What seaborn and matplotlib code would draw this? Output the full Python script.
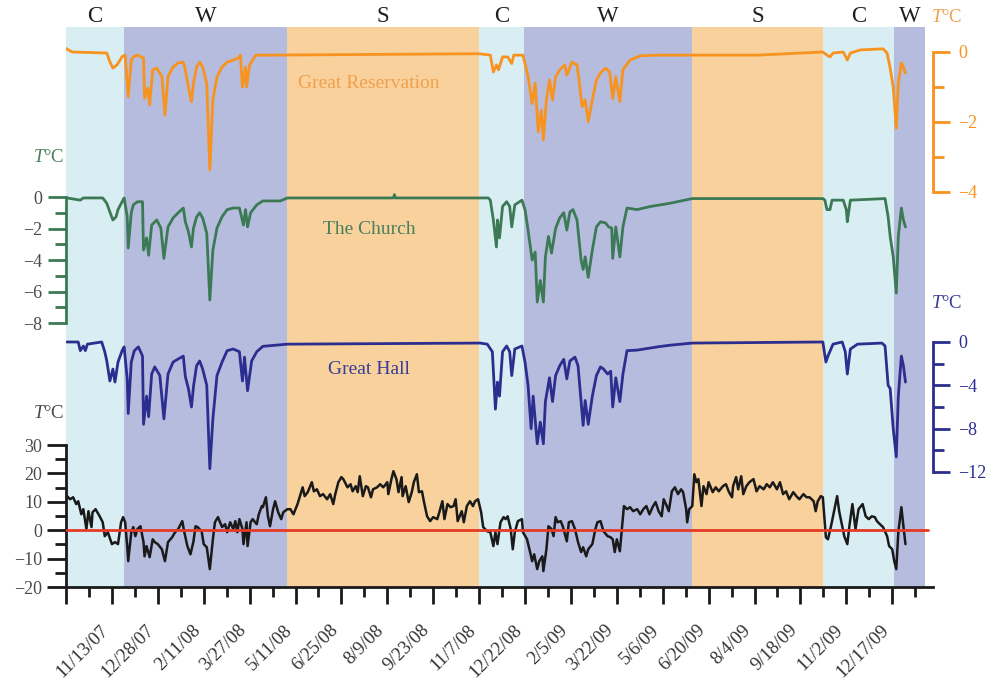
import matplotlib
matplotlib.use("Agg")
import matplotlib.pyplot as plt
import pandas as pd
import seaborn as sns

# ---------------- data ----------------
START = pd.Timestamp("2007-09-29")   # first (unlabelled) major tick
X_END_DAY = 850

tick_labels = ["11/13/07", "12/28/07", "2/11/08", "3/27/08", "5/11/08", "6/25/08",
               "8/9/08", "9/23/08", "11/7/08", "12/22/08", "2/5/09", "3/22/09",
               "5/6/09", "6/20/09", "8/4/09", "9/18/09", "11/2/09", "12/17/09"]

season_names = ["C", "W", "S", "C", "W", "S", "C", "W"]
season_bounds = [0, 57, 217, 405, 449, 614, 742, 812, 842]   # days after START

# (day after START, temperature °C)
great_reservation = [
    (0, 0.1), (6, 0), (40, -0.03), (43, -0.28), (46, -0.46), (50, -0.37), (53, -0.23),
    (55, -0.13), (58, -0.09), (61, -1.28), (64, -0.23), (66, -0.14), (70, -0.09),
    (76, -0.17), (77, -1.32), (80, -1.03), (82, -1.51), (85, -0.51), (89, -0.46),
    (94, -0.7), (97, -1.8), (100, -0.7), (105, -0.43), (110, -0.31), (115, -0.29),
    (117, -0.51), (120, -1.0), (123, -1.42), (125, -0.89), (128, -0.43), (131, -0.29),
    (134, -0.43), (138, -0.9), (141, -3.37), (144, -1.37), (148, -0.71), (153, -0.43),
    (158, -0.29), (164, -0.23), (169, -0.17), (171, -0.09), (173, -1.0), (176, -0.43),
    (177, -1.0), (180, -0.37), (186, -0.09), (197, -0.09), (300, -0.07), (405, -0.05),
    (416, -0.09), (419, -0.57), (422, -0.37), (424, -0.51), (428, -0.14), (433, -0.14),
    (437, -0.33), (439, -0.09), (448, -0.09), (453, -0.7), (457, -1.47), (460, -0.89),
    (463, -2.28), (466, -1.66), (468, -2.51), (471, -1.37), (474, -0.8), (477, -1.37),
    (480, -0.71), (484, -0.51), (489, -0.37), (491, -0.66), (496, -0.29), (501, -0.37),
    (503, -0.8), (506, -1.56), (509, -1.37), (512, -1.99), (516, -1.37), (520, -0.8),
    (524, -0.6), (529, -0.46), (533, -0.57), (536, -1.33), (539, -0.71), (543, -1.42),
    (546, -0.51), (553, -0.23), (563, -0.11), (580, -0.09), (678, -0.09), (742, 0.0),
    (746, -0.09), (749, -0.14), (752, -0.03), (762, 0.0), (766, -0.23), (769, -0.03),
    (779, 0.06), (801, 0.09), (805, -0.03), (808, -0.46), (811, -1.0), (814, -2.18),
    (816, -0.89), (819, -0.31), (821, -0.43), (823, -0.6)]

church = [
    (1, -0.06), (14, -0.2), (17, -0.06), (36, -0.06), (40, -0.4), (43, -0.95), (46, -1.46),
    (49, -1.27), (51, -0.8), (55, -0.3), (57, -0.06), (60, -1.25), (61, -3.24), (64, -1.0),
    (66, -0.5), (70, -0.3), (75, -0.3), (76, -3.37), (79, -2.6), (81, -3.7), (84, -1.78),
    (89, -1.46), (93, -1.97), (96, -3.9), (100, -1.9), (105, -1.33), (110, -1.0),
    (115, -0.7), (117, -1.57), (120, -2.2), (123, -3.17), (125, -1.97), (128, -1.27),
    (131, -1.0), (134, -1.33), (138, -2.3), (141, -6.54), (144, -3.37), (148, -1.97),
    (153, -1.25), (158, -0.8), (164, -0.7), (170, -0.7), (174, -1.78), (176, -0.8),
    (178, -1.9), (181, -1.0), (187, -0.5), (193, -0.25), (210, -0.25), (217, -0.06),
    (321, -0.06), (322, 0.15), (323, -0.06), (414, -0.06), (416, -0.2), (419, -1.46),
    (422, -3.17), (423, -1.46), (425, -2.6), (428, -0.6), (432, -0.3), (435, -0.6),
    (437, -1.9), (440, -0.5), (447, -0.2), (450, -0.8), (453, -2.1), (457, -4.0),
    (460, -3.5), (462, -6.67), (465, -5.3), (468, -6.67), (470, -3.8), (473, -2.5),
    (476, -3.56), (480, -2.0), (484, -1.33), (488, -1.0), (491, -2.1), (494, -0.95),
    (497, -0.8), (501, -1.46), (505, -4.0), (507, -4.6), (509, -3.8), (512, -5.1),
    (516, -3.37), (520, -1.9), (524, -1.57), (529, -1.65), (532, -1.9), (535, -1.97),
    (536, -3.9), (539, -1.9), (543, -3.8), (546, -1.9), (550, -0.7), (560, -0.8),
    (573, -0.6), (592, -0.4), (614, -0.1), (742, -0.1), (744, -0.2), (746, -0.8),
    (749, -0.8), (751, -0.2), (762, -0.2), (765, -0.8), (766, -1.57), (769, -0.2),
    (803, -0.1), (806, -1.25), (808, -2.5), (811, -3.8), (814, -6.1), (816, -2.5),
    (819, -0.7), (821, -1.46), (823, -1.9)]

great_hall = [
    (1, 0), (12, 0), (14, -0.8), (17, -0.37), (19, -0.8), (21, -0.2), (35, 0), (38, -0.9),
    (40, -1.75), (43, -3.6), (46, -2.5), (48, -3.7), (51, -1.85), (55, -0.8), (57, -0.45),
    (60, -3.4), (61, -6.6), (64, -1.85), (67, -0.8), (71, -0.45), (75, -1.3), (76, -7.6),
    (79, -5.0), (81, -6.9), (84, -2.96), (87, -2.3), (92, -3.1), (96, -7.1), (100, -2.96),
    (105, -1.85), (110, -1.57), (115, -1.3), (117, -3.2), (120, -4.3), (123, -6.0),
    (125, -4.1), (128, -2.2), (131, -1.75), (134, -2.5), (138, -4.0), (141, -11.7),
    (144, -7.1), (148, -3.1), (153, -1.85), (158, -0.8), (164, -0.65), (170, -0.9),
    (173, -3.6), (175, -1.4), (178, -4.5), (182, -1.75), (187, -0.9), (193, -0.4),
    (217, -0.2), (406, -0.1), (413, -0.2), (418, -0.9), (421, -6.2), (423, -3.7),
    (425, -5.0), (428, -0.9), (432, -0.37), (435, -0.9), (437, -3.1), (440, -0.65),
    (447, -0.37), (450, -1.85), (453, -4.0), (456, -8.0), (458, -5.0), (462, -9.4),
    (465, -7.4), (468, -9.4), (470, -5.5), (474, -3.3), (477, -5.5), (480, -3.1),
    (484, -2.2), (488, -1.6), (491, -3.4), (494, -1.75), (499, -1.4), (502, -2.2),
    (505, -5.5), (507, -7.7), (509, -5.4), (512, -7.6), (516, -5.0), (520, -3.1),
    (524, -2.3), (527, -2.5), (531, -2.96), (534, -2.7), (536, -6.0), (539, -3.3),
    (543, -5.5), (546, -2.96), (550, -0.8), (560, -0.75), (580, -0.45), (592, -0.3),
    (614, -0.1), (742, 0), (745, -1.85), (747, -1.3), (752, -0.2), (761, 0), (764, -0.9),
    (766, -2.96), (769, -0.65), (776, -0.2), (800, -0.1), (803, -0.37), (806, -4.0),
    (808, -4.3), (811, -8.0), (814, -10.6), (816, -5.0), (819, -1.3), (821, -2.2),
    (823, -3.7)]

outdoor = [
    (1, 12.0), (4, 10.9), (7, 11.6), (10, 9.2), (12, 10.2), (15, 5.6), (17, 7.4), (20, 0.4),
    (22, 6.7), (25, 1.1), (26, 6.3), (29, 7.4), (33, 4.9), (36, 2.8), (38, -2.1), (41, -0.7),
    (45, -4.9), (48, -4.2), (51, -4.9), (54, 2.8), (56, 4.6), (58, 2.8), (60, -5.6),
    (61, -10.9), (64, -0.7), (66, 1.1), (68, -2.1), (70, 0.4), (73, 1.4), (76, -4.2),
    (77, -9.2), (79, -5.6), (82, -9.5), (85, -3.2), (87, -4.2), (90, -4.9), (94, -6.7),
    (97, -10.9), (100, -4.2), (104, -2.5), (107, -0.7), (110, 0.4), (114, 3.2), (116, -0.7),
    (119, -5.6), (122, -8.5), (125, -3.9), (127, 1.4), (129, 1.1), (133, -0.4), (135, -4.9),
    (138, -6.0), (141, -13.7), (144, -3.2), (146, 2.8), (149, 4.6), (153, 1.1), (156, 2.1),
    (158, -0.7), (161, 2.8), (164, 0.4), (166, 3.2), (168, -0.7), (170, 3.9), (173, 0.4),
    (174, -4.9), (177, 2.8), (178, -5.6), (181, 2.8), (183, 3.9), (187, 2.1), (189, 5.6),
    (192, 8.5), (193, 8.1), (196, 11.6), (198, 4.9), (200, 1.4), (203, 7.4), (205, 10.2),
    (208, 6.3), (211, 3.9), (213, 6.3), (217, 7.4), (220, 7.4), (223, 5.6), (227, 9.2),
    (230, 12.7), (232, 15.1), (234, 12.0), (237, 13.4), (241, 16.9), (243, 13.7),
    (246, 14.4), (249, 12.0), (252, 12.7), (256, 10.9), (259, 12.7), (262, 9.2),
    (264, 12.7), (267, 16.9), (270, 18.7), (272, 17.9), (276, 15.1), (279, 16.2),
    (281, 13.7), (284, 15.5), (286, 13.4), (288, 19.0), (291, 12.0), (294, 15.5),
    (296, 15.1), (299, 11.6), (301, 14.4), (305, 15.1), (308, 16.2), (311, 15.1),
    (315, 16.9), (316, 12.7), (319, 17.9), (321, 20.8), (324, 17.9), (326, 13.4),
    (329, 18.7), (330, 12.0), (333, 15.5), (336, 9.9), (339, 13.4), (341, 16.9),
    (344, 19.7), (346, 13.4), (349, 13.7), (351, 9.9), (354, 4.9), (357, 3.2), (360, 4.6),
    (364, 3.9), (366, 6.3), (369, 10.2), (371, 3.9), (374, 9.2), (377, 8.1), (380, 8.5),
    (382, 10.9), (384, 3.2), (388, 6.7), (390, 2.8), (393, 8.5), (396, 10.2), (399, 8.5),
    (401, 10.2), (404, 10.9), (407, 6.3), (409, 1.1), (413, -0.4), (416, -0.7), (419, -5.6),
    (421, -0.7), (423, -4.9), (426, 2.8), (429, 4.6), (431, 3.9), (433, 4.9), (436, 0.4),
    (438, -6.7), (440, -0.7), (443, 3.2), (447, 3.9), (448, -0.7), (452, -3.2), (455, -7.7),
    (457, -10.9), (459, -8.5), (462, -13.7), (464, -10.9), (467, -9.2), (468, -14.4),
    (471, -6.7), (473, 1.4), (476, 0.4), (478, -2.1), (480, 4.6), (482, 2.8), (485, 3.2),
    (487, 1.4), (491, -3.9), (493, 2.8), (496, 3.2), (499, 0.4), (502, -4.2), (505, -7.7),
    (507, -6.0), (510, -9.2), (512, -6.7), (516, -4.9), (519, 0.4), (521, 2.8), (524, 3.2),
    (527, -0.4), (531, -2.1), (534, -2.5), (536, -3.2), (538, -7.7), (540, -3.2),
    (543, -7.4), (545, 0.4), (547, 8.5), (550, 7.4), (553, 8.1), (556, 6.7), (560, 7.4),
    (563, 5.6), (566, 7.4), (569, 8.5), (572, 5.6), (575, 8.1), (578, 9.9), (581, 6.7),
    (584, 4.9), (586, 10.9), (589, 8.5), (591, 6.7), (594, 13.7), (597, 15.1), (600, 12.7),
    (603, 14.4), (605, 13.4), (608, 7.4), (609, 2.8), (611, 7.4), (614, 8.5), (616, 19.7),
    (618, 16.9), (620, 18.0), (623, 8.5), (625, 15.5), (628, 12.7), (630, 16.9),
    (634, 13.4), (637, 15.1), (640, 13.7), (644, 15.5), (647, 16.2), (650, 13.4),
    (653, 11.6), (654, 15.5), (657, 18.7), (659, 14.4), (662, 19.0), (664, 12.7),
    (667, 15.5), (670, 16.9), (674, 18.0), (677, 13.7), (680, 15.5), (684, 14.4),
    (687, 16.2), (690, 15.1), (693, 16.9), (697, 14.4), (700, 16.9), (703, 12.7),
    (706, 13.7), (709, 10.9), (713, 13.4), (716, 12.0), (719, 10.9), (723, 12.7),
    (726, 11.6), (729, 11.6), (733, 10.2), (735, 6.7), (737, 10.2), (740, 12.0),
    (742, 11.6), (745, -2.5), (747, -3.2), (750, 1.4), (752, 4.9), (756, 12.0), (758, 6.7),
    (761, 1.4), (763, -2.1), (766, -4.9), (768, 1.4), (771, 9.2), (774, 0.4), (777, 7.4),
    (781, 9.2), (784, 4.9), (787, 3.9), (790, 4.9), (793, 4.6), (795, 3.2), (798, 2.1),
    (801, 1.1), (805, -2.1), (807, -5.6), (810, -6.7), (812, -10.9), (814, -13.7),
    (816, -0.7), (819, 8.1), (821, 1.4), (823, -4.9)]

# ---------------- styling ----------------
SEASON_COLORS = {"C": "#D9EEF2", "W": "#B6BCDD", "S": "#F8D19C"}
ORANGE, ORANGE_TXT = "#F7931E", "#F2A04A"
GREEN, GREEN_TXT = "#3B7A55", "#4A7F5E"
BLUE, BLUE_TXT = "#2B2E8F", "#3A3D96"
BLACK, RED, GREY = "#1A1A1A", "#E53A26", "#4A4A4A"

sns.set_theme(style="ticks")
plt.rcParams["font.family"] = ["Liberation Serif", "DejaVu Serif"]
plt.rcParams["mathtext.fontset"] = "custom"
plt.rcParams["mathtext.rm"] = "Liberation Serif"
plt.rcParams["mathtext.it"] = "Liberation Serif:italic"

W, H = 993, 683
fig = plt.figure(figsize=(W / 100, H / 100), dpi=100)
L, R, T, B = 66, 933, 27, 587
rect = [L / W, 1 - B / H, (R - L) / W, (B - T) / H]
x0, x1 = START, START + pd.Timedelta(days=X_END_DAY)


def to_df(pairs):
    d, v = zip(*pairs)
    return pd.DataFrame({"date": START + pd.to_timedelta(list(d), unit="D"), "T": list(v)})


def overlay(data, color, ylim):
    ax = fig.add_axes(rect, facecolor="none")
    sns.lineplot(data=to_df(data), x="date", y="T", ax=ax, color=color, lw=2.0)
    ax.set_xlim(x0, x1)
    ax.set_ylim(*ylim)
    ax.set_xlabel("")
    ax.set_ylabel("")
    ax.xaxis.set_visible(False)
    for s in ["top", "bottom", "left", "right"]:
        ax.spines[s].set_visible(False)
    return ax


# base axes: outdoor temperature + seasons + x axis
base = fig.add_axes(rect)
sns.lineplot(data=to_df(outdoor), x="date", y="T", ax=base, color=BLACK, lw=1.8, zorder=3)
for name, a, b in zip(season_names, season_bounds[:-1], season_bounds[1:]):
    base.axvspan(START + pd.Timedelta(days=a), START + pd.Timedelta(days=b),
                 color=SEASON_COLORS[name], lw=0, zorder=0)
    base.text(START + pd.Timedelta(days=(a + b) / 2), 1 + 10 / (B - T), name,
              transform=base.get_xaxis_transform(), ha="center", va="center",
              fontsize=16.5, color="#1E1E1E")
base.axhline(0, xmin=0, xmax=(928 - L) / (R - L), color=RED, lw=2.0, zorder=4)
base.set_xlim(x0, x1)
base.set_ylim(-20, 177.2)
base.set_xlabel("")
base.set_ylabel("")
for s in ["top", "right"]:
    base.spines[s].set_visible(False)
base.spines["left"].set_bounds(-20, 30)
for s in ["left", "bottom"]:
    base.spines[s].set_linewidth(2)
    base.spines[s].set_color(BLACK)
base.set_yticks(range(-20, 31, 10))
base.set_yticks(range(-15, 30, 10), minor=True)
major = [START] + list(pd.to_datetime(tick_labels, format="%m/%d/%y"))
base.set_xticks(major)
base.set_xticklabels([""] + tick_labels, rotation=45, ha="right")
base.set_xticks([m + pd.Timedelta(hours=540) for m in major], minor=True)
base.tick_params(axis="x", which="major", length=12, width=2, direction="out",
                 color=BLACK, labelcolor="#333333", labelsize=13.5, pad=13)
base.tick_params(axis="x", which="minor", length=7, width=2, direction="out", color=BLACK)
base.tick_params(axis="y", which="major", length=14, width=2, direction="out",
                 color=BLACK, labelcolor=GREY, labelsize=13, pad=3)
base.tick_params(axis="y", which="minor", length=8, width=2, direction="out", color=BLACK)

# Great Reservation (orange, right axis)
ax_o = overlay(great_reservation, ORANGE, (-15.286, 0.714))
ax_o.spines["right"].set_visible(True)
ax_o.spines["right"].set_bounds(-4, 0)
ax_o.spines["right"].set_color(ORANGE)
ax_o.spines["right"].set_linewidth(2)
ax_o.yaxis.tick_right()
ax_o.set_yticks([0, -2, -4])
ax_o.set_yticks([-1, -3], minor=True)
ax_o.tick_params(axis="y", which="major", length=12, width=2, color=ORANGE,
                 labelcolor=ORANGE, labelsize=13, pad=6)
ax_o.tick_params(axis="y", which="minor", length=8, width=2, color=ORANGE)

# The Church (green, left axis)
ax_g = overlay(church, GREEN, (-24.762, 10.794))
ax_g.spines["left"].set_visible(True)
ax_g.spines["left"].set_bounds(-8, 0)
ax_g.spines["left"].set_color(GREEN)
ax_g.spines["left"].set_linewidth(2)
ax_g.yaxis.tick_left()
ax_g.set_yticks([0, -2, -4, -6, -8])
ax_g.set_yticks([-1, -3, -5, -7], minor=True)
ax_g.tick_params(axis="y", which="major", length=13, width=2, color=GREEN,
                 labelcolor=GREY, labelsize=13, pad=4)
ax_g.tick_params(axis="y", which="minor", length=8, width=2, color=GREEN)

# Great Hall (blue, right axis)
ax_b = overlay(great_hall, BLUE, (-22.62, 29.08))
ax_b.spines["right"].set_visible(True)
ax_b.spines["right"].set_bounds(-12, 0)
ax_b.spines["right"].set_color(BLUE)
ax_b.spines["right"].set_linewidth(2)
ax_b.yaxis.tick_right()
ax_b.set_yticks([0, -4, -8, -12])
ax_b.set_yticks([-2, -6, -10], minor=True)
ax_b.tick_params(axis="y", which="major", length=12, width=2, color=BLUE,
                 labelcolor=BLUE, labelsize=13, pad=6)
ax_b.tick_params(axis="y", which="minor", length=8, width=2, color=BLUE)


def ftext(x, y, s, **kw):
    fig.text(x / W, 1 - y / H, s, ha="center", va="center", **kw)


ftext(369, 84, "Great Reservation", color=ORANGE_TXT, fontsize=14)
ftext(369, 230, "The Church", color=GREEN_TXT, fontsize=14)
ftext(369, 370, "Great Hall", color=BLUE_TXT, fontsize=14)
ftext(947, 17, r"$T$°C", color=ORANGE_TXT, fontsize=13.5)
ftext(49, 157, r"$T$°C", color=GREEN_TXT, fontsize=13.5)
ftext(947, 303, r"$T$°C", color=BLUE_TXT, fontsize=13.5)
ftext(49, 413, r"$T$°C", color=GREY, fontsize=13.5)

fig.savefig("out.png", dpi=100)
